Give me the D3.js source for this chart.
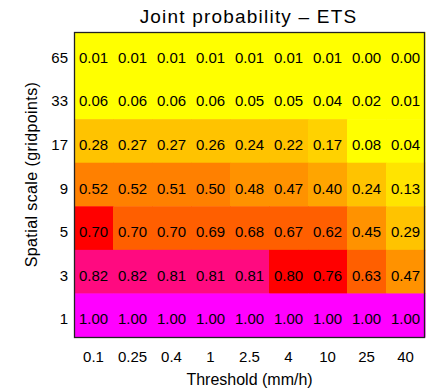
<!DOCTYPE html>
<html>
<head>
<meta charset="utf-8">
<script src="https://cdn.jsdelivr.net/npm/d3@7"></script>
<style>
  html, body { margin: 0; padding: 0; background: #fff; }
  svg text { font-family: "Liberation Sans", Arial, sans-serif; fill: #000; }
</style>
</head>
<body>
<svg id="chart" width="429" height="390"></svg>
<script>
// ---- data ----
const thresholds = ["0.1", "0.25", "0.4", "1", "2.5", "4", "10", "25", "40"];
const scales = ["65", "33", "17", "9", "5", "3", "1"];   // top to bottom
const row65 = [0.01, 0.01, 0.01, 0.01, 0.01, 0.01, 0.01, 0.00, 0.00];
const row33 = [0.06, 0.06, 0.06, 0.06, 0.05, 0.05, 0.04, 0.02, 0.01];
const row17 = [0.28, 0.27, 0.27, 0.26, 0.24, 0.22, 0.17, 0.08, 0.04];
const row9  = [0.52, 0.52, 0.51, 0.50, 0.48, 0.47, 0.40, 0.24, 0.13];
const row5  = [0.703, 0.699, 0.698, 0.69, 0.68, 0.67, 0.62, 0.45, 0.29];
const row3  = [0.82, 0.82, 0.81, 0.81, 0.81, 0.80, 0.76, 0.63, 0.47];
const row1  = [1.00, 1.00, 1.00, 1.00, 1.00, 1.00, 1.00, 1.00, 1.00];
const rows = [row65, row33, row17, row9, row5, row3, row1];

const cells = [];
rows.forEach((r, i) => r.forEach((v, j) => cells.push({ s: scales[i], t: thresholds[j], v })));

// ---- layout ----
const svg = d3.select("#chart");
const L = 74, R = 425, T = 32, B = 337;

const x = d3.scaleBand().domain(thresholds).range([L, R]);
const y = d3.scaleBand().domain(scales).range([T, B]);

const color = d3.scaleThreshold()
  .domain([0.10, 0.15, 0.20, 0.30, 0.42, 0.495, 0.60, 0.70, 0.805, 0.95])
  .range(["#ffff00", "#ffe400", "#ffd200", "#ffc300", "#ffa500", "#ff9200",
          "#ff8000", "#ff5f00", "#ff0000", "#ff0a80", "#ff00ff"]);

svg.append("g").selectAll("rect").data(cells).join("rect")
  .attr("x", d => x(d.t)).attr("y", d => y(d.s))
  .attr("width", x.bandwidth() + 0.5).attr("height", y.bandwidth() + 0.5)
  .attr("fill", d => color(d.v));

svg.append("g").selectAll("text").data(cells).join("text")
  .attr("x", d => x(d.t) + x.bandwidth() / 2)
  .attr("y", d => y(d.s) + y.bandwidth() / 2 + 9)
  .attr("text-anchor", "middle")
  .style("font-size", "15px")
  .text(d => d3.format(".2f")(d.v));

svg.append("rect")
  .attr("x", L + 0.5).attr("y", T + 0.5)
  .attr("width", R - L - 1).attr("height", B - T)
  .attr("fill", "none").attr("stroke", "#222").attr("stroke-width", 1.3);

// axes
const xAxis = svg.append("g").attr("transform", `translate(0,${B})`)
  .call(d3.axisBottom(x).tickSize(0).tickPadding(14));
xAxis.select(".domain").remove();
xAxis.selectAll("text").style("font-size", "15px").style("font-family", "Liberation Sans, Arial, sans-serif");

const yAxis = svg.append("g").attr("transform", `translate(${L},0)`)
  .call(d3.axisLeft(y).tickSize(0).tickPadding(6));
yAxis.select(".domain").remove();
yAxis.selectAll("text").style("font-size", "15px").attr("dy", "0.6em")
  .style("font-family", "Liberation Sans, Arial, sans-serif");

// titles
svg.append("text").attr("x", (L + R) / 2 - 1).attr("y", 23)
  .attr("text-anchor", "middle").style("font-size", "19px").style("letter-spacing", "1.2px")
  .text("Joint probability \u2013 ETS");

svg.append("text").attr("x", (L + R) / 2).attr("y", 385)
  .attr("text-anchor", "middle").style("font-size", "16px")
  .text("Threshold (mm/h)");

svg.append("text")
  .attr("transform", `translate(37,${(T + B) / 2 - 10}) rotate(-90)`)
  .attr("text-anchor", "middle").style("font-size", "16px").style("letter-spacing", "0.4px")
  .text("Spatial scale (gridpoints)");
</script>
</body>
</html>
